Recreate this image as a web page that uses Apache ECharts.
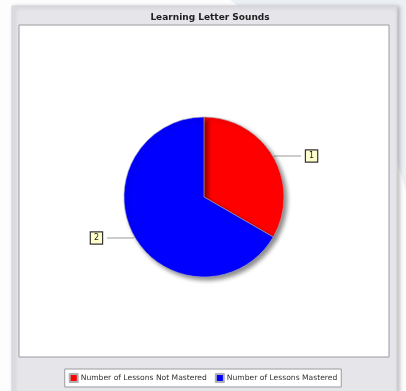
<!DOCTYPE html>
<html>
<head>
<meta charset="utf-8">
<script src="https://cdn.jsdelivr.net/npm/echarts@6/dist/echarts.min.js"></script>
<style>
  html, body { margin: 0; padding: 0; background: #fdfdfe; }
  #chart { width: 406px; height: 391px; }
</style>
</head>
<body>
<div id="chart"></div>
<script>
// Lesson mastery counts for the letter-sounds unit
const categories = ['Number of Lessons Not Mastered', 'Number of Lessons Mastered'];
const lessonCounts = [1, 2];
const sliceColors = ['#ff0000', '#0000ff'];

const chart = echarts.init(document.getElementById('chart'), null, { renderer: 'canvas' });

const pieData = categories.map((name, i) => ({
  name: name,
  value: lessonCounts[i],
  itemStyle: { color: sliceColors[i] }
}));

chart.setOption({
  animation: false,
  backgroundColor: '#fdfdfe',
  graphic: [
    // soft backdrop tint at top right
    { type: 'polygon', z: -10, shape: { points: [[230, 0], [406, 0], [406, 190], [380, 110]] },
      style: { fill: 'rgba(200,215,225,0.35)' } },
    // outer panel with drop shadow
    { type: 'rect', z: -5, shape: { x: 12, y: 6, width: 385, height: 390 },
      style: { fill: '#e5e5ea', stroke: '#d4d4da', lineWidth: 1,
               shadowColor: 'rgba(0,0,0,0.25)', shadowBlur: 4, shadowOffsetX: 2, shadowOffsetY: 1 } },
    // plot area
    { type: 'rect', z: -4, shape: { x: 19, y: 25, width: 370, height: 332 },
      style: { fill: '#ffffff', stroke: '#9a9aa0', lineWidth: 1 } }
  ],
  title: {
    text: 'Learning Letter Sounds',
    left: 205, top: 8, textAlign: 'center',
    textStyle: { fontFamily: 'DejaVu Sans', fontSize: 9, fontWeight: 'bold', color: '#222' }
  },
  legend: {
    data: categories,
    bottom: 4, left: 'center',
    itemWidth: 8, itemHeight: 8, itemGap: 8,
    icon: 'rect',
    backgroundColor: '#ffffff',
    borderColor: '#9a9aa0', borderWidth: 1,
    padding: [4, 4, 4, 4],
    textStyle: { fontFamily: 'DejaVu Sans', fontSize: 7.6, color: '#333', padding: [0, 0, 0, -2] }
  },
  series: [{
    type: 'pie',
    center: [204, 197],
    radius: 80,
    startAngle: 90,
    clockwise: true,
    data: pieData,
    itemStyle: {
      borderColor: '#b0b0b8', borderWidth: 0.6,
      shadowColor: 'rgba(0,0,0,0.45)', shadowBlur: 4, shadowOffsetX: 3, shadowOffsetY: 3
    },
    label: {
      show: true,
      position: 'outside',
      formatter: p => String(p.value),
      fontFamily: 'DejaVu Sans', fontSize: 8, color: '#222',
      backgroundColor: '#ffffcc',
      borderColor: '#333', borderWidth: 1.2,
      padding: [2, 3, 1, 3]
    },
    labelLine: {
      show: true, length: 2, length2: 26,
      lineStyle: { color: '#9a9a9a', width: 1 }
    },
    emphasis: { disabled: true }
  }]
});
</script>
</body>
</html>
